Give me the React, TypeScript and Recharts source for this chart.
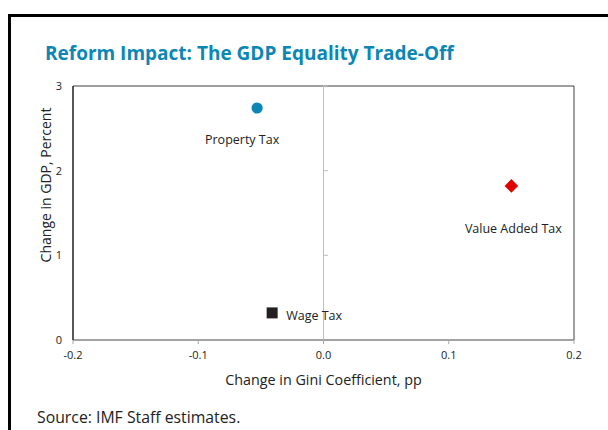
import React from 'react';
import { ScatterChart, Scatter, XAxis, YAxis, ReferenceLine, ReferenceArea } from 'recharts';

// values
const taxNames = ['Property Tax', 'Value Added Tax', 'Wage Tax'];
const giniChange = [-0.053, 0.150, -0.041];
const gdpChange = [2.74, 1.82, 0.32];

const xTicks = [-0.2, -0.1, 0, 0.1, 0.2];
const yTicks = [0, 1, 2, 3];

// marker styling, one per tax
const markerStyles = [
  { kind: 'circle', color: '#0C87B5', labelDx: -15, labelDy: 31, anchor: 'middle' },
  { kind: 'diamond', color: '#E00000', labelDx: 2, labelDy: 43, anchor: 'middle' },
  { kind: 'square', color: '#231F20', labelDx: 14, labelDy: 3, anchor: 'start' },
];

const FONT = '"Open Sans", "Noto Sans", sans-serif';

const makeShape = (i: number) => (props: any) => {
  const { cx, cy } = props;
  const st = markerStyles[i];
  let mark: React.ReactNode;
  if (st.kind === 'circle') {
    mark = <circle cx={cx} cy={cy} r={5.6} fill={st.color} />;
  } else if (st.kind === 'square') {
    mark = <rect x={cx - 5.5} y={cy - 5.5} width={11} height={11} fill={st.color} />;
  } else {
    const h = 6.8;
    mark = (
      <polygon
        points={`${cx},${cy - h} ${cx + h},${cy} ${cx},${cy + h} ${cx - h},${cy}`}
        fill={st.color}
      />
    );
  }
  return (
    <g>
      {mark}
      <text
        x={cx + st.labelDx}
        y={cy + st.labelDy}
        textAnchor={st.anchor as any}
        dominantBaseline="central"
        fontSize={12.5}
        fontFamily={FONT}
        fill="#222"
      >
        {taxNames[i]}
      </text>
    </g>
  );
};

const App = () => {
  return (
    <div
      style={{
        position: 'fixed',
        left: 0,
        top: 0,
        width: 608,
        height: 430,
        overflow: 'hidden',
        background: '#fff',
        fontFamily: FONT,
      }}
    >
      <div
        style={{
          position: 'absolute',
          left: 8,
          top: 14,
          width: 700,
          height: 500,
          border: '3px solid #000',
        }}
      />
      <div
        style={{
          position: 'absolute',
          left: 45,
          top: 40,
          fontSize: 19,
          lineHeight: '26px',
          fontWeight: 700,
          color: '#0C87B5',
          whiteSpace: 'nowrap',
        }}
      >
        Reform Impact: The GDP Equality Trade-Off
      </div>
      <div
        style={{
          position: 'absolute',
          left: 37,
          top: 406,
          fontSize: 15.8,
          lineHeight: '22px',
          color: '#222',
          whiteSpace: 'nowrap',
        }}
      >
        Source: IMF Staff estimates.
      </div>
      <div style={{ position: 'absolute', left: 0, top: 0 }}>
        <ScatterChart width={608} height={430} margin={{ top: 86, right: 34, bottom: 40, left: 0 }}>
          <ReferenceArea
            x1={-0.2}
            x2={0.2}
            y1={0}
            y2={3}
            fill="none"
            stroke="#404040"
            strokeWidth={1}
            ifOverflow="extendDomain"
          />
          <ReferenceLine x={0} stroke="#BFBFBF" />
          {yTicks.slice(1).map((t) => (
            <ReferenceLine
              key={t}
              segment={[{ x: 0, y: t }, { x: 0.0035, y: t }]}
              stroke="#BFBFBF"
            />
          ))}
          <XAxis
            type="number"
            dataKey="x"
            domain={[-0.2, 0.2]}
            ticks={xTicks}
            tickFormatter={(v: number) => v.toFixed(1)}
            height={50}
            axisLine={{ stroke: '#A6A6A6' }}
            tickLine={{ stroke: '#A6A6A6' }}
            tickSize={4}
            tickMargin={7}
            tick={{ fontSize: 11, fill: '#222', fontFamily: FONT }}
            allowDataOverflow
            label={{
              content: ({ viewBox }: any) => (
                <text
                  x={viewBox.x + viewBox.width / 2}
                  y={viewBox.y + 39}
                  textAnchor="middle"
                  dominantBaseline="central"
                  fontSize={14.3}
                  fontFamily={FONT}
                  fill="#222"
                >
                  Change in Gini Coefficient, pp
                </text>
              ),
            }}
          />
          <YAxis
            type="number"
            dataKey="y"
            domain={[0, 3]}
            ticks={yTicks}
            width={73}
            axisLine={{ stroke: '#111' }}
            tickLine={false}
            tickSize={0}
            tickMargin={11}
            tick={{ fontSize: 11, fill: '#222', fontFamily: FONT }}
            allowDataOverflow
            label={{
              content: () => (
                <text
                  x={45}
                  y={185}
                  textAnchor="middle"
                  dominantBaseline="central"
                  fontSize={14}
                  fontFamily={FONT}
                  fill="#222"
                  transform="rotate(-90 45 185)"
                >
                  Change in GDP, Percent
                </text>
              ),
            }}
          />
          {taxNames.map((name, i) => (
            <Scatter
              key={name}
              name={name}
              data={[{ x: giniChange[i], y: gdpChange[i] }]}
              shape={makeShape(i)}
              isAnimationActive={false}
            />
          ))}
        </ScatterChart>
      </div>
    </div>
  );
};

export default App;
